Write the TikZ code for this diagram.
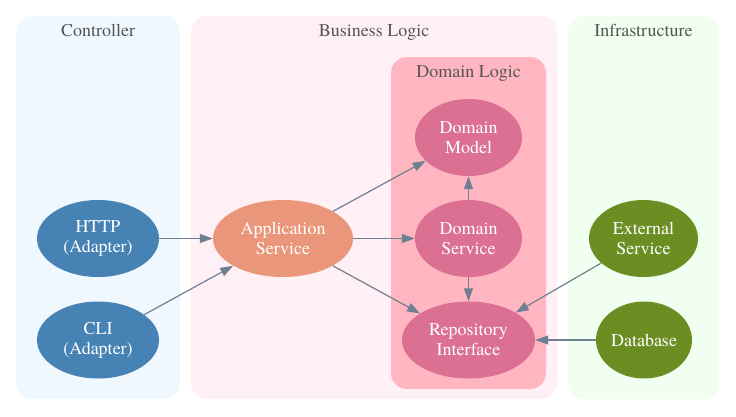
\documentclass[tikz,border=0pt]{standalone}
\usepackage{fontspec}
\setmainfont{texgyretermes}[Extension=.otf, UprightFont=*-regular]
\usetikzlibrary{shapes.geometric,arrows.meta}
\definecolor{ctrlbg}{HTML}{F0F8FF}
\definecolor{bizbg}{HTML}{FFF0F5}
\definecolor{domainbg}{HTML}{FFB6C1}
\definecolor{infrabg}{HTML}{F0FFF0}
\definecolor{adaptercol}{HTML}{4682B4}
\definecolor{appcol}{HTML}{E9967A}
\definecolor{domaincol}{HTML}{DB7093}
\definecolor{infracol}{HTML}{6B8E23}
\definecolor{edgegray}{HTML}{708090}
\definecolor{titlegray}{HTML}{555555}
\begin{document}
\begin{tikzpicture}[x=1pt, y=-1pt, >={Triangle[length=13pt,width=9pt]},
  font=\fontsize{18}{20}\selectfont,
  box/.style={rounded corners=16pt},
  title/.style={text=titlegray, anchor=base},
  unit/.style={ellipse, inner sep=0pt, text=white, align=center},
  dep/.style={->, draw=edgegray, line width=1.2pt}]
  \useasboundingbox (0,0) rectangle (736,416);
  % layers
  \fill[box, fill=ctrlbg] (16,16) rectangle (180,399);
  \fill[box, fill=bizbg] (191,16) rectangle (557,399);
  \fill[box, fill=domainbg] (391,57) rectangle (546,389);
  \fill[box, fill=infrabg] (568,16) rectangle (719,399);
  \node[title] (ctrltitle) at (98,36) {Controller};
  \node[title] (biztitle) at (374,36) {Business Logic};
  \node[title] (domaintitle) at (468.5,77) {Domain Logic};
  \node[title] (infratitle) at (643.5,36) {Infrastructure};
  % controller
  \node[unit, fill=adaptercol, minimum width=122pt, minimum height=77pt] (http) at (98,238.5) {HTTP\\(Adapter)};
  \node[unit, fill=adaptercol, minimum width=122pt, minimum height=77pt] (cli) at (98,340) {CLI\\(Adapter)};
  % business logic
  \node[unit, fill=appcol, minimum width=140pt, minimum height=77pt] (app) at (283,238.5) {Application\\Service};
  \node[unit, fill=domaincol, minimum width=107pt, minimum height=77pt] (model) at (468.5,137.5) {Domain\\Model};
  \node[unit, fill=domaincol, minimum width=107pt, minimum height=77pt] (dsvc) at (468.5,238.5) {Domain\\Service};
  \node[unit, fill=domaincol, minimum width=133pt, minimum height=77pt] (repo) at (468.5,340) {Repository\\Interface};
  % infrastructure
  \node[unit, fill=infracol, minimum width=109pt, minimum height=77pt] (ext) at (643.5,238.5) {External\\Service};
  \node[unit, fill=infracol, minimum width=96pt, minimum height=77pt] (db) at (644,340) {Database};
  % dependencies
  \draw[dep] (http) -- (app);
  \draw[dep] (cli) -- (app);
  \draw[dep] (app) -- (model);
  \draw[dep] (app) -- (dsvc);
  \draw[dep] (app) -- (repo);
  \draw[dep] (dsvc) -- (model);
  \draw[dep] (dsvc) -- (repo);
  \draw[dep] (ext) -- (repo);
  \draw[dep] (db) -- (repo);
\end{tikzpicture}
\end{document}
